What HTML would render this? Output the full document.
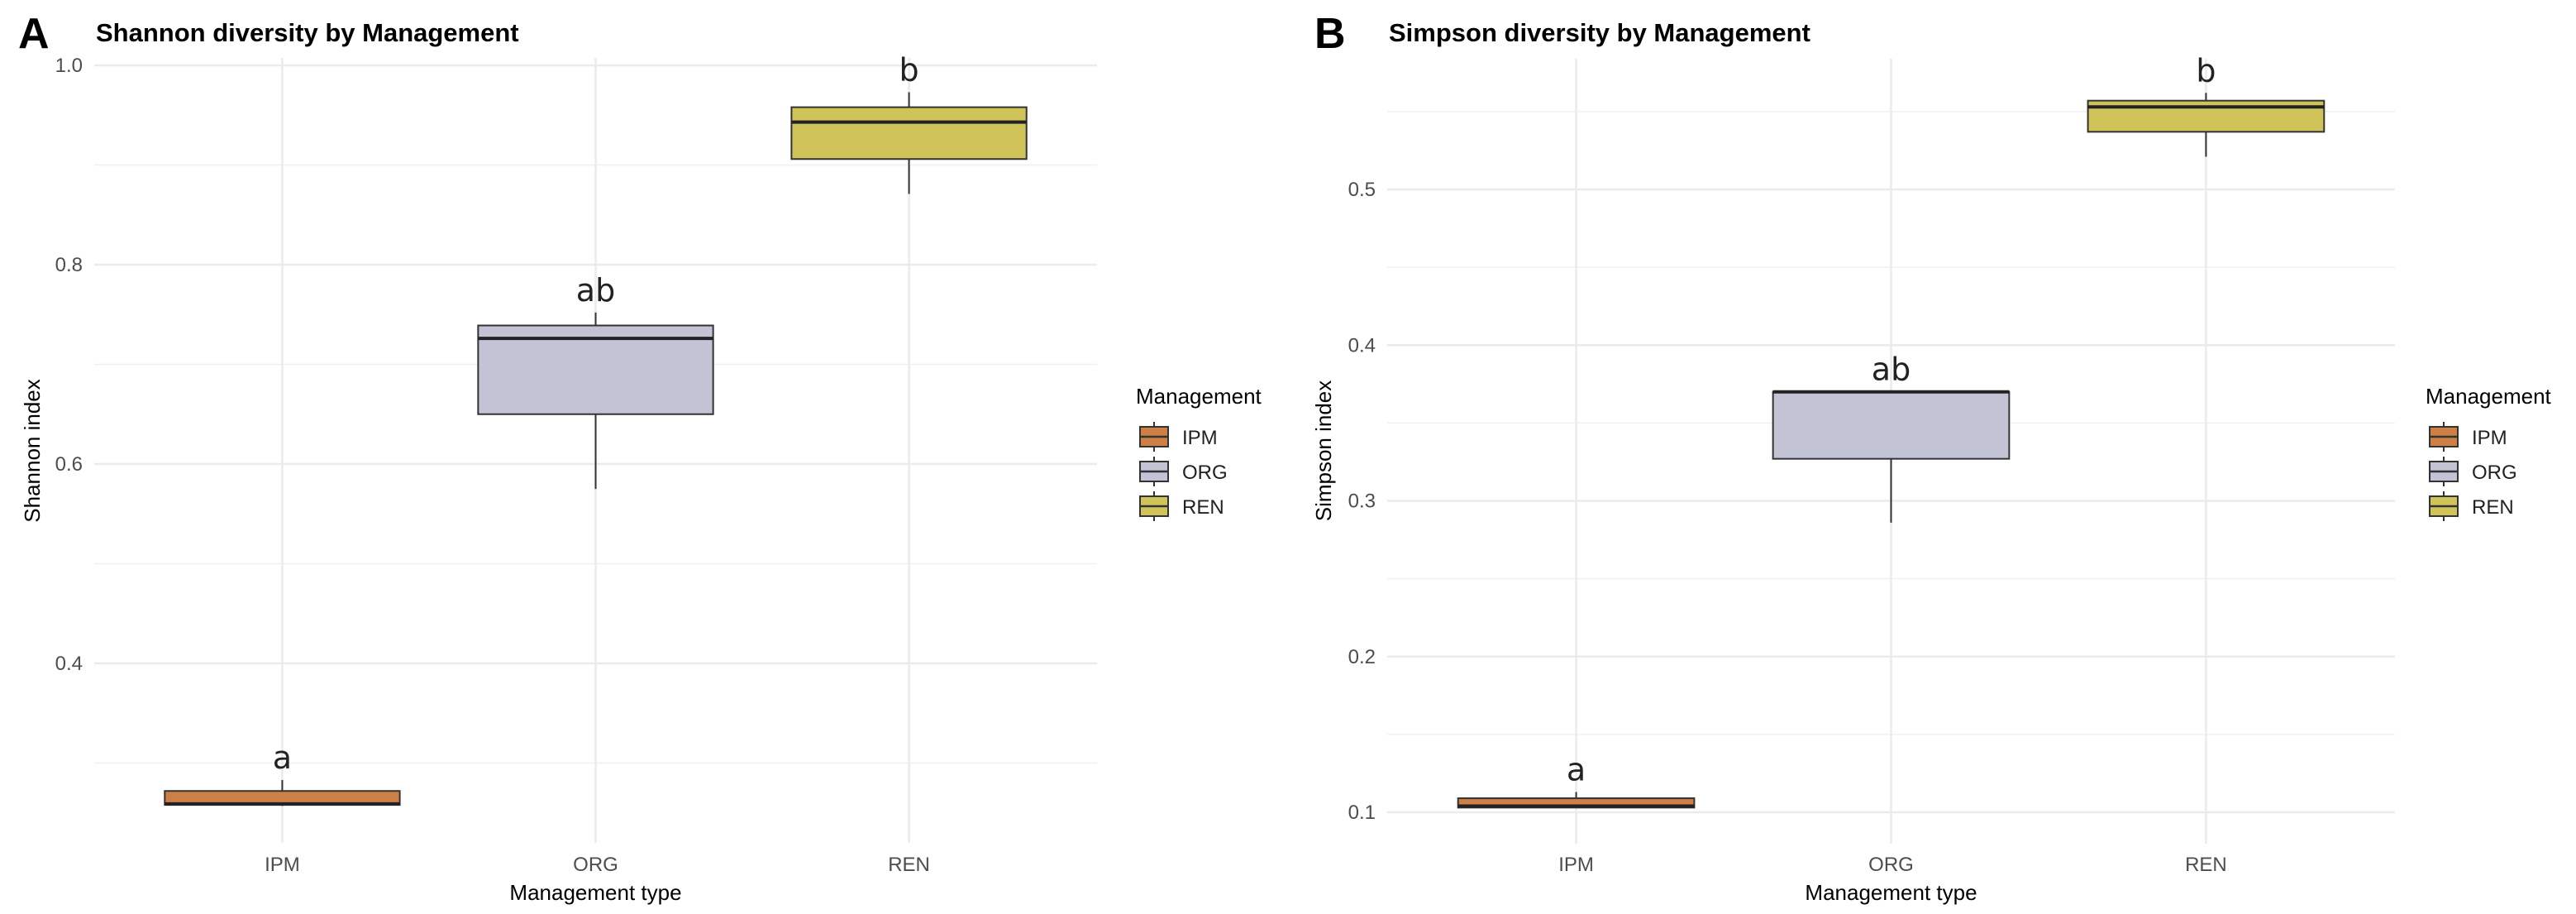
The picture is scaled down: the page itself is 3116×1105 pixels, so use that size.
<!DOCTYPE html>
<html><head><meta charset="utf-8"><style>
body{margin:0;background:#fff;}
svg{display:block;font-family:"Liberation Sans",sans-serif;}
</style></head><body>
<svg id="chart" width="3116" height="1105" viewBox="0 0 3116 1105"></svg>
<script>
const categories = ["IPM","ORG","REN"];
const colors = ["#cd7f45","#c3c3d6","#cfc35a"];
// Shannon: [lowWhisker, q1, median, q3, highWhisker]
const shannonLow = [0.257,0.575,0.871];
const shannonQ1 = [0.258,0.650,0.906];
const shannonMed = [0.259,0.726,0.943];
const shannonQ3 = [0.272,0.739,0.958];
const shannonHigh = [0.283,0.752,0.973];
const shannonLetters = ["a","ab","b"];
const shannonTicks = [0.4,0.6,0.8,1.0];
const shannonMinor = [0.3,0.5,0.7,0.9];
// Simpson
const simpsonLow = [0.103,0.286,0.521];
const simpsonQ1 = [0.103,0.327,0.537];
const simpsonMed = [0.104,0.370,0.553];
const simpsonQ3 = [0.109,0.370,0.557];
const simpsonHigh = [0.113,0.370,0.562];
const simpsonLetters = ["a","ab","b"];
const simpsonTicks = [0.1,0.2,0.3,0.4,0.5];
const simpsonMinor = [0.15,0.25,0.35,0.45,0.55];

const NS="http://www.w3.org/2000/svg";
const svg=document.getElementById('chart');
function el(tag,attrs,parent,text){const e=document.createElementNS(NS,tag);for(const k in attrs)e.setAttribute(k,attrs[k]);if(text!==undefined)e.textContent=text;(parent||svg).appendChild(e);return e;}

function panel(cfg){
  const g=el('g',{});
  
  
  const L=cfg.left,R=cfg.right,T=cfg.top,B=cfg.bottom;
  const y=v=>cfg.y0+(v-cfg.v0)*cfg.pxPerUnit*-1;
  const step=(R-L)/3.2;
  const x=i=>L+step*(0.6+i);
  cfg.minor.forEach(v=>{const l=el('line',{x1:L,x2:R,y1:y(v),y2:y(v),stroke:'#f0f0f0','stroke-width':1.5},g);
    });
  cfg.ticks.forEach(v=>{const l=el('line',{x1:L,x2:R,y1:y(v),y2:y(v),stroke:'#ebebeb','stroke-width':2.5},g);
    
    const t=el('text',{x:L-14,y:y(v)+8,'text-anchor':'end','font-size':24,fill:'#4d4d4d'},g,v.toFixed(1));
    });
  categories.forEach((c,i)=>{const l=el('line',{x1:x(i),x2:x(i),y1:T,y2:B,stroke:'#ebebeb','stroke-width':2.5},g);
    
    const t=el('text',{x:x(i),y:1053,'text-anchor':'middle','font-size':24,fill:'#4d4d4d'},g,c);
    });
  const bw=step*0.75;
  categories.forEach((c,i)=>{
    const bg=el('g',{},g);
    
    
    el('line',{x1:x(i),x2:x(i),y1:y(cfg.high[i]),y2:y(cfg.q3[i]),stroke:'#333','stroke-width':2},bg);
    el('line',{x1:x(i),x2:x(i),y1:y(cfg.q1[i]),y2:y(cfg.low[i]),stroke:'#333','stroke-width':2},bg);
    el('rect',{x:x(i)-bw/2,y:y(cfg.q3[i]),width:bw,height:Math.max(1,y(cfg.q1[i])-y(cfg.q3[i])),fill:colors[i],stroke:'#333','stroke-width':2},bg);
    el('line',{x1:x(i)-bw/2,x2:x(i)+bw/2,y1:y(cfg.med[i]),y2:y(cfg.med[i]),stroke:'#222','stroke-width':4},bg);
    const t=el('text',{x:x(i),y:y(cfg.high[i])-14,'text-anchor':'middle','font-size':38,fill:'#222','font-family':'DejaVu Sans, sans-serif'},g,cfg.letters[i]);
    
  });
  const ti=el('text',{x:L+2,y:50,'font-size':31,'font-weight':'bold',fill:'#000'},g,cfg.title);
  
  const lb=el('text',{x:cfg.labelX,y:58,'font-size':52,'font-weight':'bold',fill:'#000'},g,cfg.label);
  
  const xt=el('text',{x:(L+R)/2,y:1088,'text-anchor':'middle','font-size':26,fill:'#000'},g,'Management type');
  
  const yt=el('text',{x:0,y:0,'text-anchor':'middle','font-size':26,fill:'#000',transform:`translate(${cfg.ytX},545) rotate(-90)`},g,cfg.ytitle);
  
  const lg=el('g',{},g);
  
  el('text',{x:cfg.legX,y:488,'font-size':26,fill:'#000'},lg,'Management');
  categories.forEach((c,i)=>{
    const cy=528+i*42;
    const e=el('g',{},lg);
    
    
    el('line',{x1:cfg.legX+22,x2:cfg.legX+22,y1:cy-18,y2:cy+18,stroke:'#333','stroke-width':2},e);
    el('rect',{x:cfg.legX+5,y:cy-12,width:34,height:24,fill:colors[i],stroke:'#333','stroke-width':2},e);
    el('line',{x1:cfg.legX+5,x2:cfg.legX+39,y1:cy,y2:cy,stroke:'#333','stroke-width':2.5},e);
    el('text',{x:cfg.legX+56,y:cy+9,'font-size':24,fill:'#222'},e,c);
  });
}
panel({name:'shannon-panel',left:114,right:1327,top:70,bottom:1019,y0:79,v0:1.0,pxPerUnit:1205,
  ticks:shannonTicks,minor:shannonMinor,low:shannonLow,q1:shannonQ1,med:shannonMed,q3:shannonQ3,high:shannonHigh,
  letters:shannonLetters,title:'Shannon diversity by Management',label:'A',labelX:22,ytitle:'Shannon index',ytX:48,legX:1374});
panel({name:'simpson-panel',left:1678,right:2897,top:71,bottom:1020,y0:229,v0:0.5,pxPerUnit:1882.5,
  ticks:simpsonTicks,minor:simpsonMinor,low:simpsonLow,q1:simpsonQ1,med:simpsonMed,q3:simpsonQ3,high:simpsonHigh,
  letters:simpsonLetters,title:'Simpson diversity by Management',label:'B',labelX:1590,ytitle:'Simpson index',ytX:1610,legX:2934});
</script>
</body></html>
